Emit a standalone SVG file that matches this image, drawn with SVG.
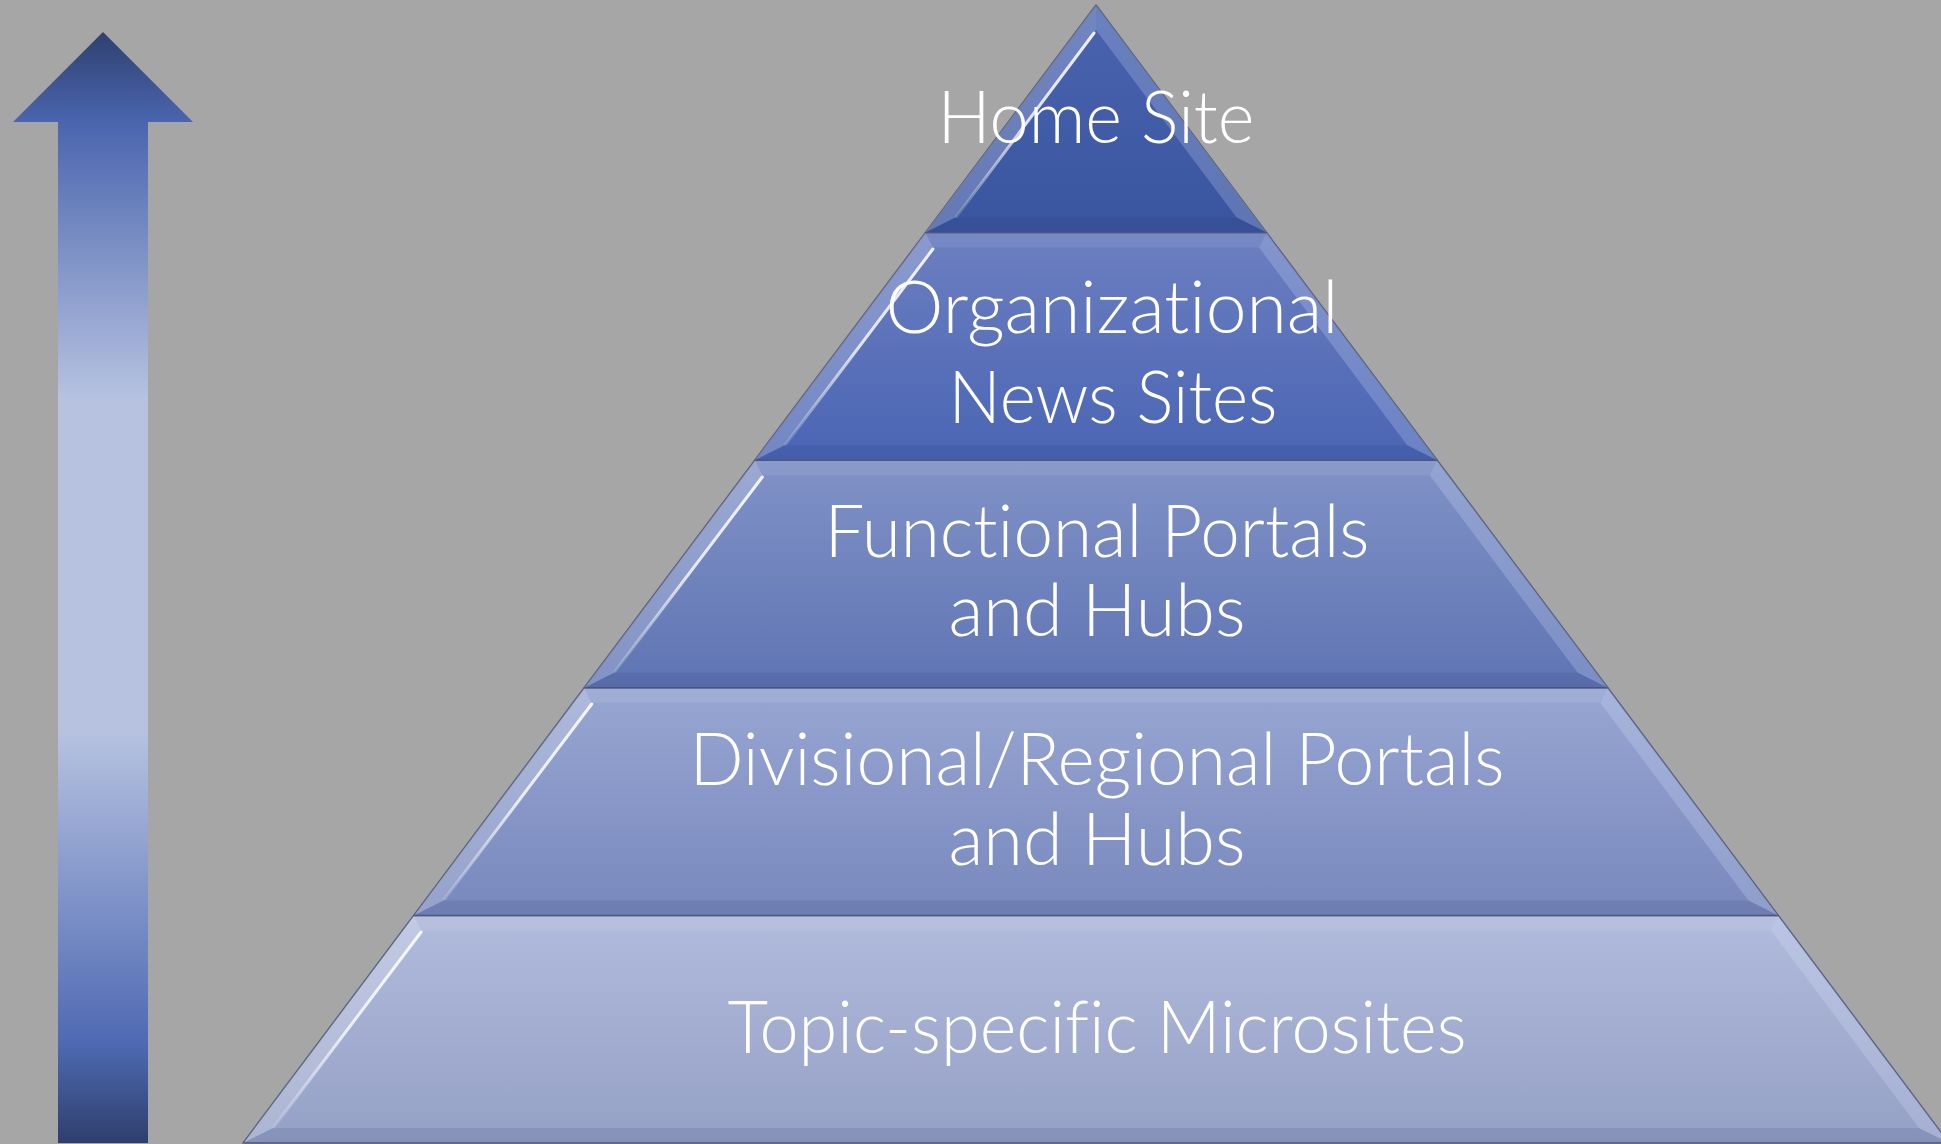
<svg xmlns="http://www.w3.org/2000/svg" width="1941" height="1144" viewBox="0 0 1941 1144">
  <defs>
    <linearGradient id="gArrow" gradientUnits="userSpaceOnUse" x1="0" y1="32" x2="0" y2="1143">
      <stop offset="0" stop-color="#2f406f"/>
      <stop offset="0.08" stop-color="#4a65ae"/>
      <stop offset="0.33" stop-color="#b6c2e0"/>
      <stop offset="0.63" stop-color="#b6c2e0"/>
      <stop offset="0.91" stop-color="#4f6ab3"/>
      <stop offset="1" stop-color="#2e3f6d"/>
    </linearGradient>
    <linearGradient id="g1" x1="0" y1="0" x2="0" y2="1">
      <stop offset="0" stop-color="#4a64af"/>
      <stop offset="1" stop-color="#3a559f"/>
    </linearGradient>
    <linearGradient id="g2" x1="0" y1="0" x2="0" y2="1">
      <stop offset="0" stop-color="#6c7fc0"/>
      <stop offset="1" stop-color="#4a65b4"/>
    </linearGradient>
    <linearGradient id="g3" x1="0" y1="0" x2="0" y2="1">
      <stop offset="0" stop-color="#8092c6"/>
      <stop offset="1" stop-color="#5f74b4"/>
    </linearGradient>
    <linearGradient id="g4" x1="0" y1="0" x2="0" y2="1">
      <stop offset="0" stop-color="#98a6d2"/>
      <stop offset="1" stop-color="#7888bd"/>
    </linearGradient>
    <linearGradient id="g5" x1="0" y1="0" x2="0" y2="1">
      <stop offset="0" stop-color="#b1bbdc"/>
      <stop offset="1" stop-color="#95a0c6"/>
    </linearGradient>
    <linearGradient id="gShine" x1="0" y1="0" x2="0" y2="1">
      <stop offset="0" stop-color="#ffffff" stop-opacity="0.9"/>
      <stop offset="0.5" stop-color="#ffffff" stop-opacity="0.8"/>
      <stop offset="1" stop-color="#ffffff" stop-opacity="0.15"/>
    </linearGradient>
  </defs>
  <style>
    .face { stroke: #4f5a80; stroke-width: 1.5; stroke-linejoin: round; }
    .bev-l { fill: #ffffff; fill-opacity: 0.22; }
    .bev-r { fill: #dfe6ff; fill-opacity: 0.22; }
    .bev-t { fill: #ffffff; fill-opacity: 0.08; }
    .bev-b { fill: #1e2f60; fill-opacity: 0.12; }
    .shine { fill: none; stroke: url(#gShine); stroke-width: 3; stroke-linecap: round; }
    .label { font-family: "Lato", "Open Sans", "Liberation Sans", sans-serif; font-weight: 300; font-size: 72px; fill: #ffffff; text-anchor: middle; font-variant-ligatures: none; font-feature-settings: "liga" 0, "clig" 0; }
  </style>

  <!-- background -->
  <rect x="0" y="0" width="1941" height="1144" fill="#a6a6a6"/>

  <!-- upward arrow on the left -->
  <g id="arrow">
    <polygon points="103,32 193,122 148,122 148,1143 58,1143 58,122 13,122" fill="url(#gArrow)"/>
  </g>

  <!-- pyramid tiers, bottom to top -->
  <g id="tier-topic">
    <polygon class="face" points="413.7,915.4 1778.3,915.4 1949,1143 243,1143" fill="url(#g5)"/>
    <polygon class="bev-t" points="413.7,915.4 1778.3,915.4 1770.9,930.4 421.1,930.4"/>
    <polygon class="bev-l" points="413.7,915.4 421.1,930.4 273,1128 243,1143"/>
    <polygon class="bev-r" points="1778.3,915.4 1949,1143 1919,1128 1770.9,930.4"/>
    <polygon class="bev-b" points="273,1128 1919,1128 1949,1143 243,1143"/>
    <line class="shine" x1="421.1" y1="932" x2="274" y2="1127"/>
    <text class="label" x="1097" y="1053" textLength="739" lengthAdjust="spacingAndGlyphs">Topic-specific Microsites</text>
  </g>

  <g id="tier-divisional">
    <polygon class="face" points="584.2,687.8 1607.8,687.8 1778.3,915.4 413.7,915.4" fill="url(#g4)"/>
    <polygon class="bev-t" points="584.2,687.8 1607.8,687.8 1600.3,702.8 591.7,702.8"/>
    <polygon class="bev-l" points="584.2,687.8 591.7,702.8 443.6,900.4 413.7,915.4"/>
    <polygon class="bev-r" points="1607.8,687.8 1778.3,915.4 1748.4,900.4 1600.3,702.8"/>
    <polygon class="bev-b" points="443.6,900.4 1748.4,900.4 1778.3,915.4 413.7,915.4"/>
    <line class="shine" x1="591.7" y1="704" x2="444.6" y2="899"/>
    <text class="label" x="1097" y="785" textLength="815" lengthAdjust="spacingAndGlyphs">Divisional/Regional Portals</text>
    <text class="label" x="1097" y="865" textLength="297" lengthAdjust="spacingAndGlyphs">and Hubs</text>
  </g>

  <g id="tier-functional">
    <polygon class="face" points="754.8,460.2 1437.2,460.2 1607.8,687.8 584.2,687.8" fill="url(#g3)"/>
    <polygon class="bev-t" points="754.8,460.2 1437.2,460.2 1429.7,475.2 762.3,475.2"/>
    <polygon class="bev-l" points="754.8,460.2 762.3,475.2 614.2,672.8 584.2,687.8"/>
    <polygon class="bev-r" points="1437.2,460.2 1607.8,687.8 1577.8,672.8 1429.7,475.2"/>
    <polygon class="bev-b" points="614.2,672.8 1577.8,672.8 1607.8,687.8 584.2,687.8"/>
    <line class="shine" x1="762.3" y1="477" x2="615.2" y2="671"/>
    <text class="label" x="1097" y="557" textLength="545" lengthAdjust="spacingAndGlyphs">Functional Portals</text>
    <text class="label" x="1097" y="636" textLength="297" lengthAdjust="spacingAndGlyphs">and Hubs</text>
  </g>

  <g id="tier-news">
    <polygon class="face" points="925.4,232.6 1266.6,232.6 1437.2,460.2 754.8,460.2" fill="url(#g2)"/>
    <polygon class="bev-t" points="925.4,232.6 1266.6,232.6 1259.1,247.6 932.9,247.6"/>
    <polygon class="bev-l" points="925.4,232.6 932.9,247.6 784.8,445.2 754.8,460.2"/>
    <polygon class="bev-r" points="1266.6,232.6 1437.2,460.2 1407.2,445.2 1259.1,247.6"/>
    <polygon class="bev-b" points="784.8,445.2 1407.2,445.2 1437.2,460.2 754.8,460.2"/>
    <line class="shine" x1="932.9" y1="249" x2="785.8" y2="444"/>
    <text class="label" x="1112" y="333" textLength="453" lengthAdjust="spacingAndGlyphs">Organizational</text>
    <text class="label" x="1113" y="423" textLength="329" lengthAdjust="spacingAndGlyphs">News Sites</text>
  </g>

  <g id="tier-home">
    <polygon class="face" points="1096,5 1266.6,232.6 925.4,232.6" fill="url(#g1)"/>
    <polygon class="bev-l" points="1096,5 1096,30 955.4,217.6 925.4,232.6"/>
    <polygon class="bev-r" points="1096,5 1266.6,232.6 1236.6,217.6 1096,30"/>
    <polygon class="bev-b" points="955.4,217.6 1236.6,217.6 1266.6,232.6 925.4,232.6"/>
    <line class="shine" x1="1094" y1="33" x2="956.4" y2="216.6"/>
    <text class="label" x="1096" y="143" textLength="317" lengthAdjust="spacingAndGlyphs">Home Site</text>
  </g>
</svg>
